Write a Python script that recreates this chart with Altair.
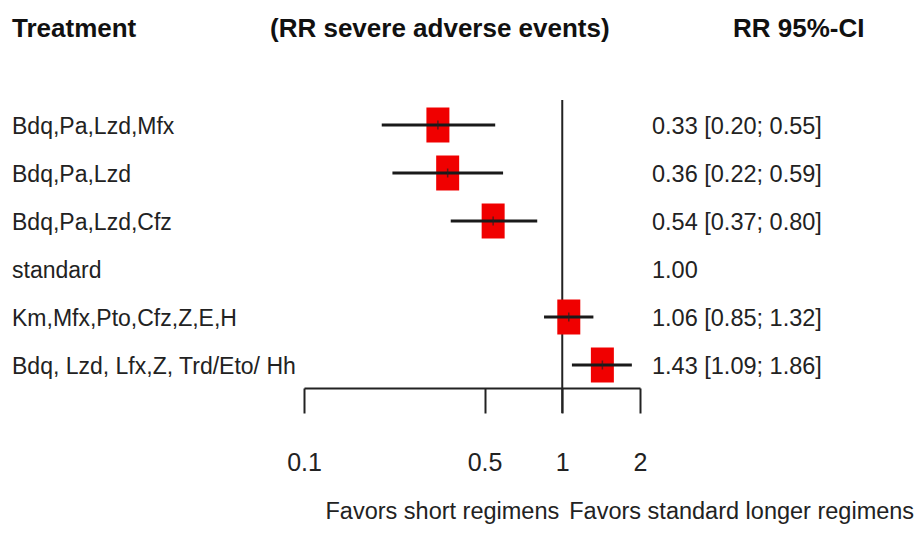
import altair as alt
import pandas as pd

treatments = ["Bdq,Pa,Lzd,Mfx", "Bdq,Pa,Lzd", "Bdq,Pa,Lzd,Cfz", "standard",
              "Km,Mfx,Pto,Cfz,Z,E,H", "Bdq, Lzd, Lfx,Z, Trd/Eto/ Hh"]
rr = [0.33, 0.36, 0.54, 1.00, 1.06, 1.43]
lower = [0.20, 0.22, 0.37, None, 0.85, 1.09]
upper = [0.55, 0.59, 0.80, None, 1.32, 1.86]
rr_labels = ["0.33 [0.20; 0.55]", "0.36 [0.22; 0.59]", "0.54 [0.37; 0.80]", "1.00",
             "1.06 [0.85; 1.32]", "1.43 [1.09; 1.86]"]
ticks = [0.1, 0.5, 1, 2]
headers = ["Treatment", "(RR severe adverse events)", "RR 95%-CI"]
favors = ["Favors short regimens", "Favors standard longer regimens"]

df = pd.DataFrame({"treatment": treatments, "rr": rr, "lo": lower, "hi": upper, "label": rr_labels})
df_est = df[df["lo"].notna()]

FONT = "Liberation Sans"
xscale = alt.Scale(type="log", domain=[0.1, 2], range=[304, 640])
yscale = alt.Scale(type="point", domain=treatments, range=[125, 365], padding=0)
Y = alt.Y("treatment:N", scale=yscale, axis=None)

base = alt.Chart(df_est)

axis_layer = alt.Chart(pd.DataFrame({"v": ticks})).mark_point(opacity=0).encode(
    x=alt.X("v:Q", scale=xscale,
            axis=alt.Axis(values=ticks, format="~g", title=None, grid=False,
                          domainColor="#222", domainWidth=2, tickColor="#222", tickWidth=2,
                          tickSize=25, labelFont=FONT, labelFontSize=25, labelColor="#222",
                          labelPadding=37, labelFlush=False)),
)

refline = alt.Chart(pd.DataFrame({"v": [1]})).mark_rule(color="#222", strokeWidth=2).encode(
    x=alt.X("v:Q", scale=xscale), y=alt.value(100), y2=alt.value(413)
)

boxes = base.mark_point(
    shape="M-0.657,-1L0.657,-1L0.657,1L-0.657,1Z", filled=True, color="#f00000", opacity=1, size=1225
).encode(x=alt.X("rr:Q", scale=xscale), y=Y)

whiskers = base.mark_rule(color="#1a1a1a", strokeWidth=2.8).encode(
    x=alt.X("lo:Q", scale=xscale), x2="hi:Q", y=Y
)

centers = base.mark_point(shape="M0,-1L0,1", color="#222", size=80, strokeWidth=1.5).encode(
    x=alt.X("rr:Q", scale=xscale), y=Y
)

left_text = alt.Chart(df).mark_text(align="left", baseline="middle", font=FONT, fontSize=23,
                                    color="#222", dy=2).encode(
    x=alt.value(12), y=Y, text="treatment:N"
)

right_text = alt.Chart(df).mark_text(align="left", baseline="middle", font=FONT, fontSize=23.5,
                                     color="#222", dy=2).encode(
    x=alt.value(652), y=Y, text="label:N"
)

hdr = pd.DataFrame({"h": headers, "px": [12, 270, 733]})
header_text = alt.Chart(hdr).mark_text(align="left", baseline="middle", font=FONT, fontSize=26,
                                       fontWeight="bold", color="#111").encode(
    x=alt.X("px:Q", scale=None), y=alt.value(29), text="h:N"
)

fav = pd.DataFrame({"t": favors, "v": [1, 1]})
fav_left = alt.Chart(fav.iloc[[0]]).mark_text(align="right", baseline="middle", font=FONT,
                                              fontSize=23.5, color="#222", dx=-3).encode(
    x=alt.X("v:Q", scale=xscale), y=alt.value(512), text="t:N"
)
fav_right = alt.Chart(fav.iloc[[1]]).mark_text(align="left", baseline="middle", font=FONT,
                                               fontSize=23.5, color="#222", dx=7).encode(
    x=alt.X("v:Q", scale=xscale), y=alt.value(512), text="t:N"
)

chart = alt.layer(axis_layer, refline, boxes, whiskers, centers, left_text, right_text,
                  header_text, fav_left, fav_right).properties(
    width=917, height=388,
    autosize=alt.AutoSizeParams(type="none"),
    padding={"left": 0, "right": 0, "top": 0, "bottom": 148},
    background="white",
).configure_view(stroke=None)

chart.save("out.html", embed_options={"renderer": "svg", "actions": False})
